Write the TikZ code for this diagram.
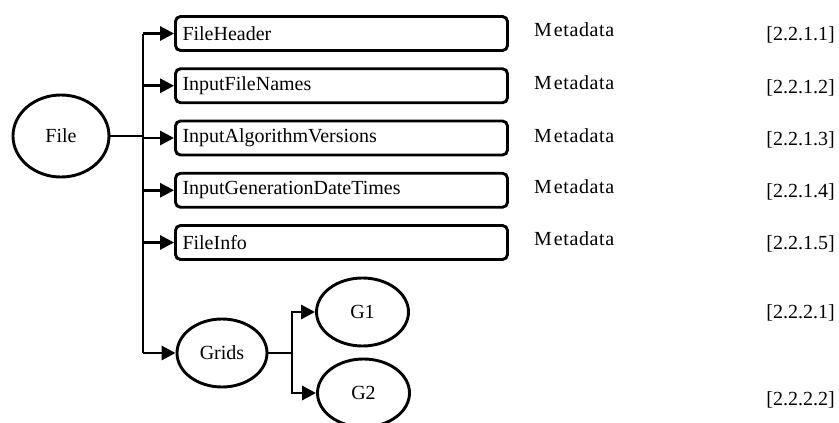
\documentclass[tikz,border=0pt]{standalone}
\usepackage{fontspec}
\setmainfont{Liberation Serif}
\usetikzlibrary{arrows.meta,shapes.geometric}
\begin{document}
\begin{tikzpicture}[x=1pt,y=-1pt,
  every node/.style={font=\fontsize{20}{24}\selectfont},
  ln/.style={line width=2.9pt},
  arr/.style={ln,-{Triangle[length=14pt,width=14pt]}},
  ell/.style={ellipse,draw,ln,inner sep=0pt},
  box/.style={rectangle,draw,ln,rounded corners=5pt,minimum height=34pt,text width=318pt,inner xsep=7pt,align=left,inner ysep=0pt},
  meta/.style={anchor=base west,inner sep=0pt,font=\fontsize{20}{24}\selectfont\addfontfeature{LetterSpace=3}},
  num/.style={anchor=base east,inner sep=0pt}]
\useasboundingbox (0,0) rectangle (839,423);

\node[ell,minimum width=96pt,minimum height=82pt] (file) at (61,136) {File};

\node[box] (b1) at (341.5,33.5) {FileHeader};
\node[box] (b2) at (341.5,85.75) {InputFileNames};
\node[box] (b3) at (341.5,138) {InputAlgorithmVersions};
\node[box] (b4) at (341.5,190.25) {InputGenerationDateTimes};
\node[box] (b5) at (341.5,242.5) {FileInfo};

\node[ell,minimum width=90pt,minimum height=68pt] (grids) at (222,353) {Grids};
\node[ell,minimum width=92pt,minimum height=68pt] (g1) at (362.5,312) {G1};
\node[ell,minimum width=92pt,minimum height=68pt] (g2) at (363.5,393) {G2};

\coordinate (t1) at (143,33.5);
\coordinate (t6) at (143,353);
\coordinate (gj) at (292,353);

\draw[ln] (t1) -- (t6);
\draw[ln] (file.east) -- (file.east -| t1);
\foreach \b in {b1,b2,b3,b4,b5}{
  \draw[arr] (\b.west -| t1) -- (\b.west);
}
\draw[arr] (t6) -- (grids.west);
\draw[ln] (grids.east) -- (gj);
\draw[arr] (gj) |- (g1.west);
\draw[arr] (gj) |- (g2.west);

\node[meta] (m1) at (534,36) {M\kern2pt etadata};
\node[meta] (m2) at (534,89) {M\kern2pt etadata};
\node[meta] (m3) at (534,142) {M\kern2pt etadata};
\node[meta] (m4) at (534,193) {M\kern2pt etadata};
\node[meta] (m5) at (534,245) {M\kern2pt etadata};

\node[num] (n1) at (835,40) {[2.2.1.1]};
\node[num] (n2) at (835,93) {[2.2.1.2]};
\node[num] (n3) at (835,145) {[2.2.1.3]};
\node[num] (n4) at (835,197) {[2.2.1.4]};
\node[num] (n5) at (835,249) {[2.2.1.5]};
\node[num] (n6) at (835,318) {[2.2.2.1]};
\node[num] (n7) at (835,405) {[2.2.2.2]};
\end{tikzpicture}
\end{document}
